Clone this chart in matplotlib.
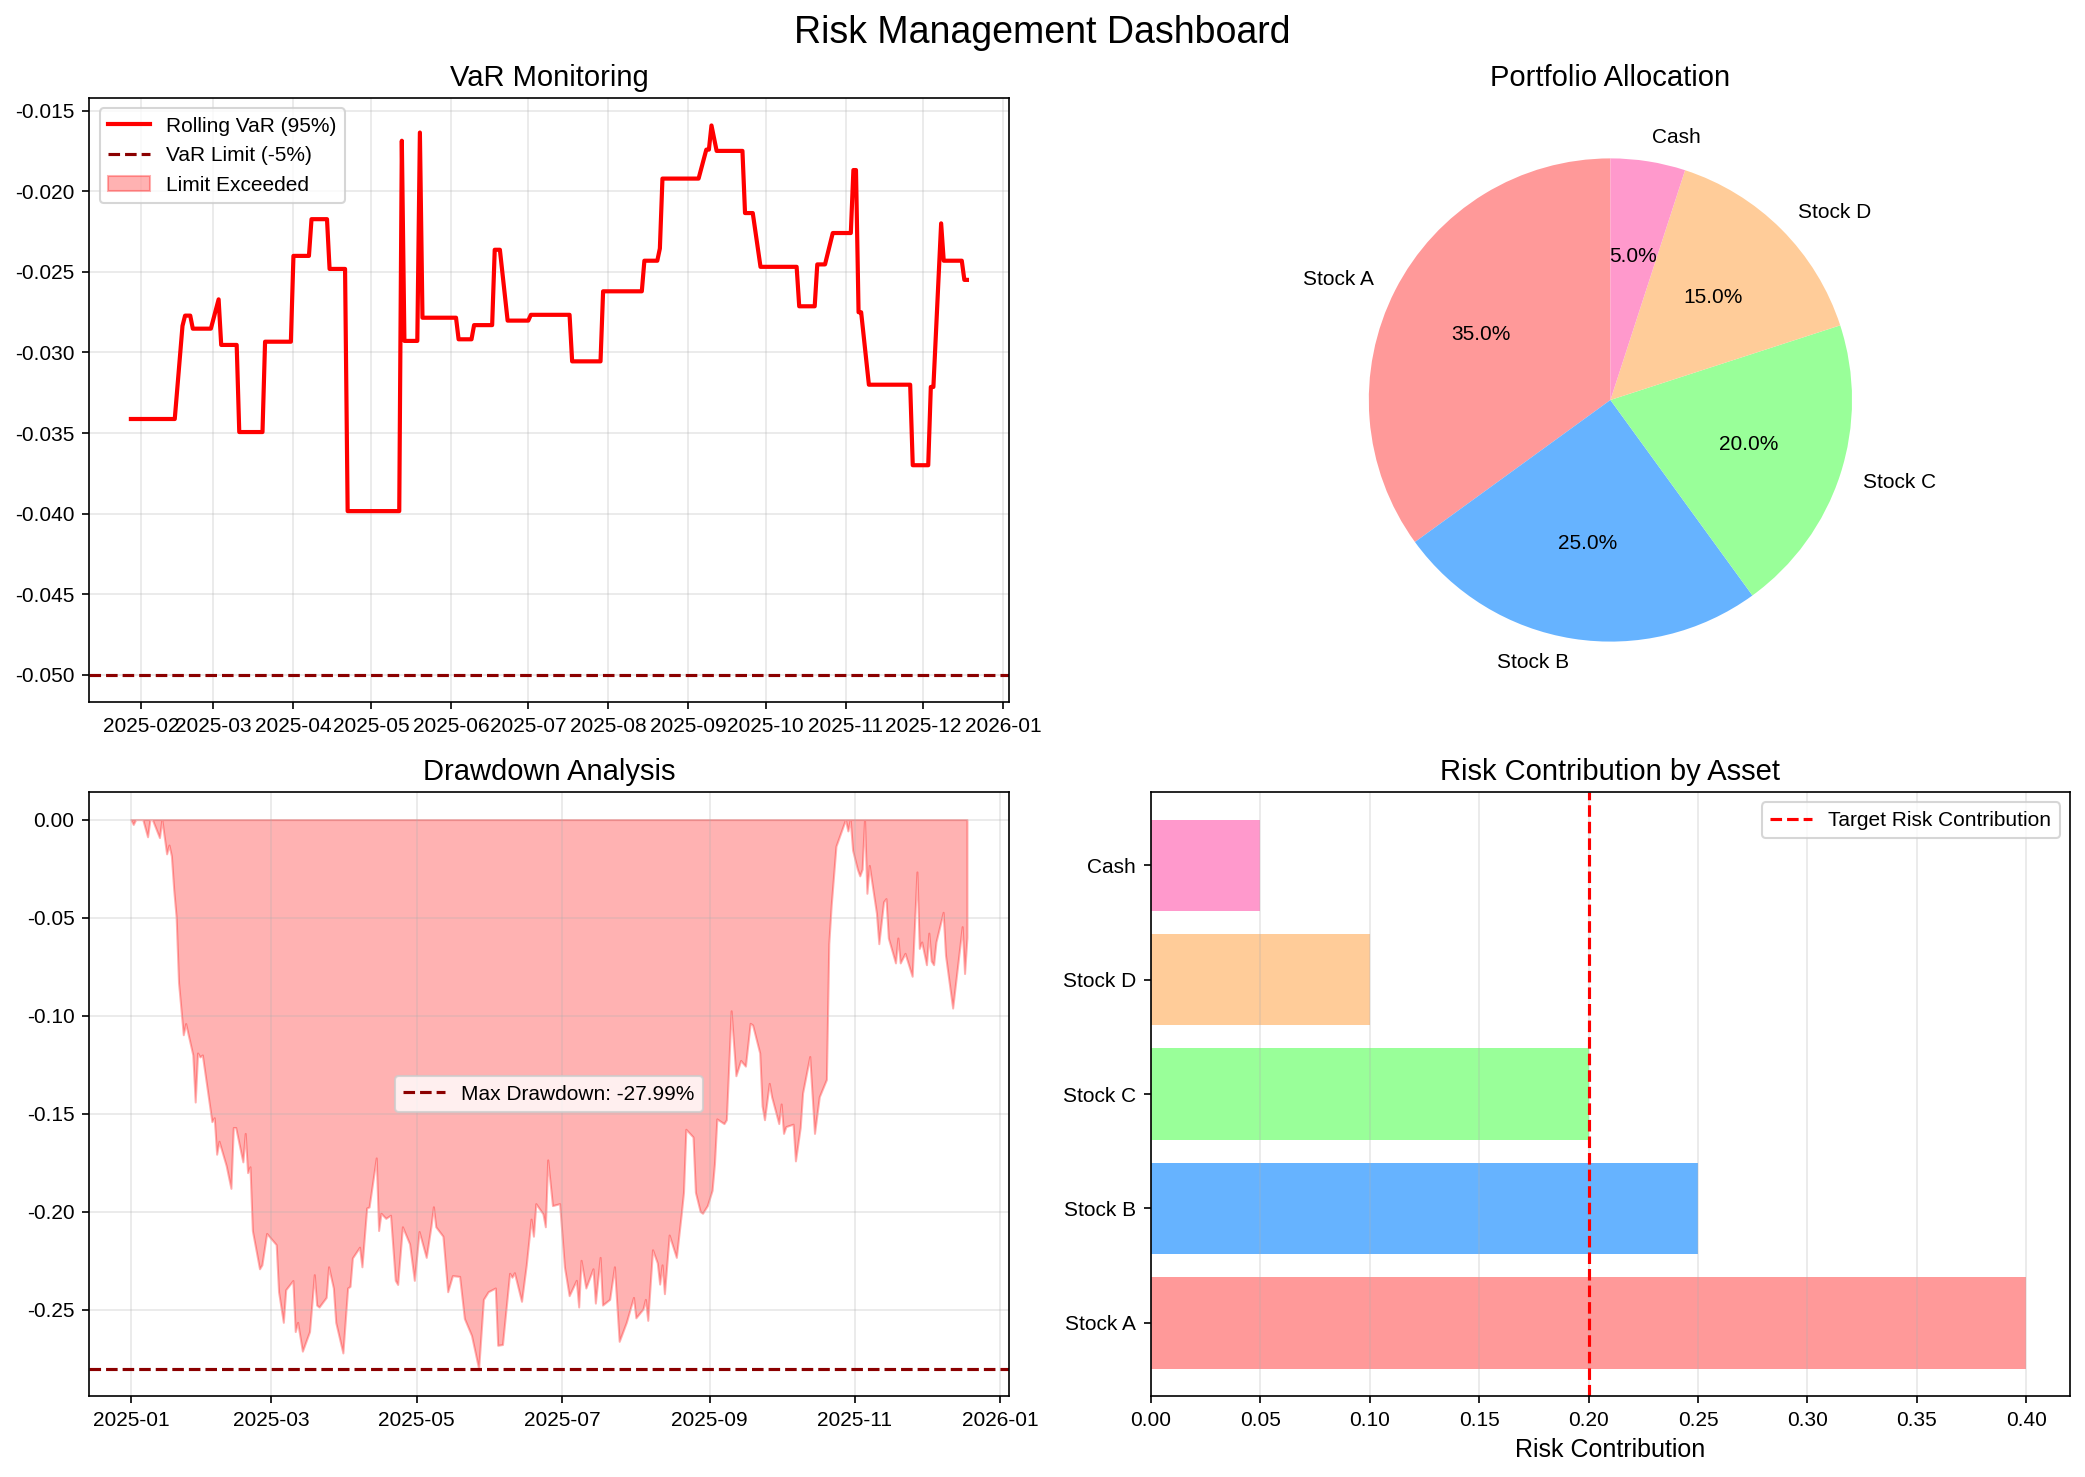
import matplotlib
matplotlib.use('Agg')
import matplotlib.pyplot as plt
import numpy as np
import pandas as pd

plt.rcParams['font.family'] = ['Liberation Sans', 'DejaVu Sans']
plt.rcParams['axes.unicode_minus'] = False

# --- rolling VaR (95%), vertices ---
var_dates = [
    '2025-01-28', '2025-02-14', '2025-02-17', '2025-02-18', '2025-02-20', '2025-02-21',
    '2025-02-28', '2025-03-03', '2025-03-04', '2025-03-10', '2025-03-11', '2025-03-20',
    '2025-03-21', '2025-03-31', '2025-04-01', '2025-04-07', '2025-04-08', '2025-04-14',
    '2025-04-15', '2025-04-21', '2025-04-22', '2025-05-12', '2025-05-13', '2025-05-14',
    '2025-05-19', '2025-05-20', '2025-05-21', '2025-06-03', '2025-06-04', '2025-06-09',
    '2025-06-10', '2025-06-17', '2025-06-18', '2025-06-20', '2025-06-23', '2025-07-01',
    '2025-07-02', '2025-07-17', '2025-07-18', '2025-07-29', '2025-07-30', '2025-08-14',
    '2025-08-15', '2025-08-20', '2025-08-21', '2025-08-22', '2025-09-05', '2025-09-08',
    '2025-09-09', '2025-09-10', '2025-09-12', '2025-09-22', '2025-09-23', '2025-09-26',
    '2025-09-29', '2025-10-13', '2025-10-14', '2025-10-20', '2025-10-21', '2025-10-24',
    '2025-10-27', '2025-11-03', '2025-11-04', '2025-11-05', '2025-11-06', '2025-11-07',
    '2025-11-10', '2025-11-26', '2025-11-27', '2025-12-03', '2025-12-04', '2025-12-05',
    '2025-12-08', '2025-12-09', '2025-12-16', '2025-12-17', '2025-12-18',
]
var_values = [
    -0.03413, -0.03413, -0.02835, -0.02771, -0.02771, -0.02852,
    -0.02852, -0.02670, -0.02953, -0.02953, -0.03494, -0.03494,
    -0.02933, -0.02933, -0.02400, -0.02400, -0.02172, -0.02172,
    -0.02481, -0.02481, -0.03985, -0.03985, -0.01685, -0.02928,
    -0.02928, -0.01634, -0.02784, -0.02784, -0.02918, -0.02918,
    -0.02830, -0.02830, -0.02362, -0.02362, -0.02802, -0.02802,
    -0.02766, -0.02766, -0.03055, -0.03055, -0.02620, -0.02620,
    -0.02430, -0.02430, -0.02354, -0.01920, -0.01920, -0.01740,
    -0.01740, -0.01590, -0.01748, -0.01748, -0.02134, -0.02134,
    -0.02468, -0.02468, -0.02713, -0.02713, -0.02453, -0.02453,
    -0.02258, -0.02258, -0.01867, -0.01867, -0.02750, -0.02750,
    -0.03200, -0.03200, -0.03700, -0.03700, -0.03214, -0.03214,
    -0.02198, -0.02430, -0.02430, -0.02549, -0.02549,
]
var_limit = -0.05

# --- drawdown, vertices ---
dd_dates = [
    '2025-01-01', '2025-01-02', '2025-01-03', '2025-01-06', '2025-01-08', '2025-01-09',
    '2025-01-10', '2025-01-13', '2025-01-14', '2025-01-16', '2025-01-17', '2025-01-18',
    '2025-01-19', '2025-01-20', '2025-01-21', '2025-01-23', '2025-01-24', '2025-01-27',
    '2025-01-28', '2025-01-29', '2025-01-30', '2025-01-31', '2025-02-04', '2025-02-05',
    '2025-02-06', '2025-02-07', '2025-02-10', '2025-02-12', '2025-02-13', '2025-02-14',
    '2025-02-17', '2025-02-18', '2025-02-19', '2025-02-20', '2025-02-21', '2025-02-24',
    '2025-02-25', '2025-02-27', '2025-03-03', '2025-03-04', '2025-03-06', '2025-03-07',
    '2025-03-10', '2025-03-11', '2025-03-12', '2025-03-14', '2025-03-17', '2025-03-19',
    '2025-03-20', '2025-03-21', '2025-03-24', '2025-03-25', '2025-03-27', '2025-03-28',
    '2025-03-31', '2025-04-02', '2025-04-03', '2025-04-04', '2025-04-07', '2025-04-08',
    '2025-04-10', '2025-04-11', '2025-04-14', '2025-04-15', '2025-04-16', '2025-04-18',
    '2025-04-20', '2025-04-22', '2025-04-23', '2025-04-25', '2025-04-28', '2025-04-30',
    '2025-05-02', '2025-05-05', '2025-05-07', '2025-05-08', '2025-05-09', '2025-05-12',
    '2025-05-14', '2025-05-16', '2025-05-19', '2025-05-21', '2025-05-24', '2025-05-27',
    '2025-05-29', '2025-05-31', '2025-06-03', '2025-06-04', '2025-06-06', '2025-06-09',
    '2025-06-10', '2025-06-11', '2025-06-14', '2025-06-16', '2025-06-18', '2025-06-19',
    '2025-06-20', '2025-06-23', '2025-06-24', '2025-06-25', '2025-06-27', '2025-06-30',
    '2025-07-02', '2025-07-04', '2025-07-07', '2025-07-08', '2025-07-09', '2025-07-11',
    '2025-07-14', '2025-07-15', '2025-07-17', '2025-07-18', '2025-07-21', '2025-07-23',
    '2025-07-25', '2025-07-28', '2025-07-31', '2025-08-01', '2025-08-04', '2025-08-05',
    '2025-08-06', '2025-08-08', '2025-08-10', '2025-08-11', '2025-08-12', '2025-08-13',
    '2025-08-15', '2025-08-18', '2025-08-20', '2025-08-21', '2025-08-22', '2025-08-25',
    '2025-08-26', '2025-08-28', '2025-08-29', '2025-08-31', '2025-09-02', '2025-09-03',
    '2025-09-04', '2025-09-07', '2025-09-08', '2025-09-10', '2025-09-12', '2025-09-14',
    '2025-09-16', '2025-09-18', '2025-09-19', '2025-09-22', '2025-09-23', '2025-09-24',
    '2025-09-26', '2025-09-27', '2025-09-30', '2025-10-01', '2025-10-02', '2025-10-03',
    '2025-10-06', '2025-10-07', '2025-10-09', '2025-10-10', '2025-10-13', '2025-10-15',
    '2025-10-17', '2025-10-20', '2025-10-21', '2025-10-22', '2025-10-24', '2025-10-26',
    '2025-10-28', '2025-10-29', '2025-10-30', '2025-10-31', '2025-11-02', '2025-11-03',
    '2025-11-04', '2025-11-05', '2025-11-06', '2025-11-07', '2025-11-10', '2025-11-11',
    '2025-11-13', '2025-11-14', '2025-11-15', '2025-11-18', '2025-11-19', '2025-11-20',
    '2025-11-22', '2025-11-25', '2025-11-27', '2025-11-28', '2025-11-29', '2025-12-01',
    '2025-12-02', '2025-12-03', '2025-12-04', '2025-12-05', '2025-12-08', '2025-12-09',
    '2025-12-12', '2025-12-16', '2025-12-17', '2025-12-18',
]
dd_values = [
    0.0, -0.0025, 0.0, 0.0, -0.0088, 0.0,
    0.0, -0.0092, 0.0, -0.0175, -0.0130, -0.0185,
    -0.0360, -0.0497, -0.0830, -0.1097, -0.1040, -0.1200,
    -0.1440, -0.1190, -0.1210, -0.1200, -0.1540, -0.1520,
    -0.1706, -0.1640, -0.1764, -0.1880, -0.1570, -0.1570,
    -0.1745, -0.1600, -0.1800, -0.1770, -0.2095, -0.2290,
    -0.2270, -0.2110, -0.2167, -0.2407, -0.2563, -0.2397,
    -0.2350, -0.2610, -0.2563, -0.2710, -0.2610, -0.2320,
    -0.2475, -0.2485, -0.2436, -0.2280, -0.2388, -0.2563,
    -0.2719, -0.2388, -0.2380, -0.2235, -0.2180, -0.2280,
    -0.1980, -0.1975, -0.1725, -0.2095, -0.2007, -0.2033,
    -0.2017, -0.2349, -0.2370, -0.2076, -0.2163, -0.2349,
    -0.2100, -0.2232, -0.2072, -0.1974, -0.2076, -0.2124,
    -0.2407, -0.2325, -0.2329, -0.2543, -0.2630, -0.2799,
    -0.2446, -0.2407, -0.2388, -0.2680, -0.2676, -0.2313,
    -0.2333, -0.2310, -0.2456, -0.2270, -0.2037, -0.2124,
    -0.1958, -0.2010, -0.2076, -0.1735, -0.1968, -0.1958,
    -0.2280, -0.2427, -0.2349, -0.2485, -0.2247, -0.2388,
    -0.2290, -0.2465, -0.2232, -0.2475, -0.2446, -0.2280,
    -0.2660, -0.2563, -0.2436, -0.2540, -0.2495, -0.2446,
    -0.2553, -0.2193, -0.2260, -0.2368, -0.2270, -0.2417,
    -0.2118, -0.2232, -0.2017, -0.1900, -0.1579, -0.1618,
    -0.1900, -0.1998, -0.2007, -0.1968, -0.1890, -0.1754,
    -0.1526, -0.1550, -0.1530, -0.0975, -0.1306, -0.1228,
    -0.1257, -0.1039, -0.1047, -0.1190, -0.1460, -0.1530,
    -0.1345, -0.1413, -0.1550, -0.1450, -0.1600, -0.1565,
    -0.1553, -0.1740, -0.1570, -0.1394, -0.1208, -0.1600,
    -0.1413, -0.1325, -0.0633, -0.0438, -0.0136, -0.0068,
    0.0, -0.0058, 0.0, -0.0156, -0.0253, -0.0287,
    -0.0253, 0.0, -0.0376, -0.0234, -0.0477, -0.0633,
    -0.0419, -0.0403, -0.0604, -0.0731, -0.0604, -0.0731,
    -0.0682, -0.0799, -0.0267, -0.0657, -0.0624, -0.0740,
    -0.0579, -0.0721, -0.0740, -0.0624, -0.0473, -0.0692,
    -0.0961, -0.0546, -0.0785, -0.0600,
]

# --- portfolio ---
assets = ['Stock A', 'Stock B', 'Stock C', 'Stock D', 'Cash']
weights = [0.35, 0.25, 0.20, 0.15, 0.05]
risk_contrib = [0.40, 0.25, 0.20, 0.10, 0.05]
target_risk = 0.20
colors = ['#ff9999', '#66b3ff', '#99ff99', '#ffcc99', '#ff99cc']

var_x = pd.to_datetime(var_dates)
var_y = np.array(var_values)
dd_x = pd.to_datetime(dd_dates)
dd_y = np.array(dd_values)
max_dd = dd_y.min()

fig, axes = plt.subplots(2, 2, figsize=(14, 10))
fig.suptitle('Risk Management Dashboard', fontsize=18)

# VaR
ax = axes[0, 0]
ax.plot(var_x, var_y, color='red', linewidth=2, label='Rolling VaR (95%)')
ax.axhline(y=var_limit, color='darkred', linestyle='--', label='VaR Limit (-5%)')
ax.fill_between(var_x, var_y, var_limit, where=var_y < var_limit,
                color='red', alpha=0.3, label='Limit Exceeded')
ax.set_title('VaR Monitoring', fontsize=14)
ax.legend(loc='upper left')
ax.grid(True, alpha=0.3)

# allocation pie
ax = axes[0, 1]
ax.pie(weights, labels=assets, colors=colors, autopct='%1.1f%%', startangle=90)
ax.set_title('Portfolio Allocation', fontsize=14)

# drawdown
ax = axes[1, 0]
ax.fill_between(dd_x, dd_y, 0, color='red', alpha=0.3)
ax.axhline(y=max_dd, color='darkred', linestyle='--',
           label=f'Max Drawdown: {max_dd:.2%}')
ax.set_title('Drawdown Analysis', fontsize=14)
ax.legend(loc='center')
ax.grid(True, alpha=0.3)

# risk contribution
ax = axes[1, 1]
ax.barh(assets, risk_contrib, color=colors)
ax.axvline(x=target_risk, color='red', linestyle='--', label='Target Risk Contribution')
ax.set_title('Risk Contribution by Asset', fontsize=14)
ax.set_xlabel('Risk Contribution', fontsize=12)
ax.legend(loc='upper right')
ax.grid(True, axis='x', alpha=0.3)

plt.tight_layout()
fig.savefig('out.png', dpi=150, bbox_inches='tight')
